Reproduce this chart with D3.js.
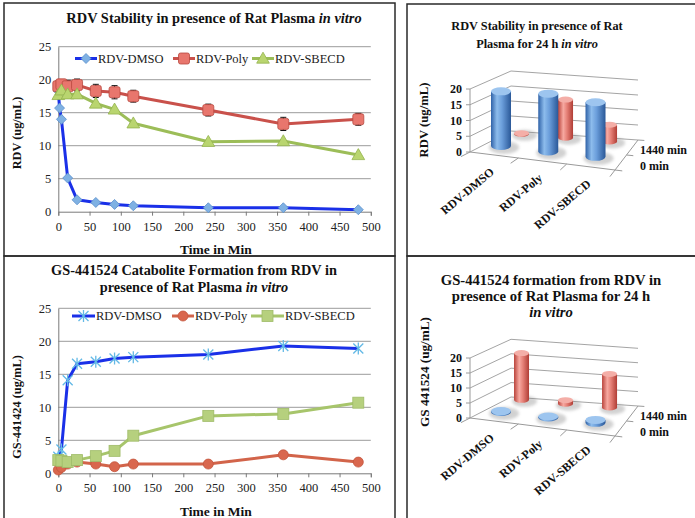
<!DOCTYPE html>
<html>
<head>
<meta charset="utf-8">
<script src="https://cdn.jsdelivr.net/npm/d3@7"></script>
<style>
  body { margin: 0; background: #fff; }
  svg { display: block; font-family: "Liberation Serif", "Times New Roman", serif; }
</style>
</head>
<body>
<script>
// ---- dados ----
const tempos = [0, 5, 15, 30, 60, 90, 120, 240, 360, 480];
const temposDmso = [0, 2, 5, 15, 30, 60, 90, 120, 240, 360, 480];
const rdvDmso = [18.3, 15.7, 14.0, 5.1, 1.8, 1.4, 1.1, 0.9, 0.6, 0.6, 0.3];
const rdvPoly = [19.0, 19.3, 19.0, 19.2, 18.3, 18.1, 17.5, 15.4, 13.3, 14.0];
const rdvPolyErro = [0.8, 0.7, 0.9, 0.9, 1.0, 1.0, 0.9, 0.9, 1.0, 0.9];
const rdvSbecd = [17.7, 18.4, 17.8, 17.8, 16.4, 15.5, 13.4, 10.6, 10.7, 8.6];

const gsDmso = [2.5, 3.6, 14.1, 16.6, 16.9, 17.4, 17.6, 18.0, 19.3, 18.9];
const gsPoly = [0.5, 0.9, 1.4, 1.7, 1.4, 1.0, 1.4, 1.4, 2.8, 1.7];
const gsSbecd = [2.0, 1.9, 1.7, 2.0, 2.6, 3.4, 5.7, 8.7, 9.0, 10.7];

const nomesSeries = ["RDV-DMSO", "RDV-Poly", "RDV-SBECD"];
const ticksY = [0, 5, 10, 15, 20, 25];
const ticksX = [0, 50, 100, 150, 200, 250, 300, 350, 400, 450, 500];

const categorias3d = ["RDV-DMSO", "RDV-Poly", "RDV-SBECD"];
const linhas3d = ["0 min", "1440 min"];
const ticks3d = [0, 5, 10, 15, 20];
const rdv0min = [17.5, 18.5, 17.5];
const rdv1440min = [0.2, 12.5, 5.5];
const gs0min = [0.3, 0.3, 1.0];
const gs1440min = [16.0, 1.2, 11.5];

const fonteSerif = '"Liberation Serif", "Times New Roman", serif';

const svg = d3.select("body").append("svg")
  .attr("width", 695)
  .attr("height", 518);

const defs = svg.append("defs");

function gradiente(id, stops) {
  const lg = defs.append("linearGradient").attr("id", id)
    .attr("x1", 0).attr("x2", 1).attr("y1", 0).attr("y2", 0);
  stops.forEach(s => lg.append("stop").attr("offset", s[0]).attr("stop-color", s[1]));
}
gradiente("gradAzul", [[0, "#2f62a8"], [0.3, "#8dbcec"], [0.55, "#6b9edb"], [1, "#2a5898"]]);
gradiente("gradVermelho", [[0, "#b9423a"], [0.35, "#f7a9a1"], [0.6, "#e57f76"], [1, "#b03d35"]]);
defs.append("filter").attr("id", "sombra").attr("x", "-50%").attr("y", "-100%").attr("width", "200%").attr("height", "300%")
  .append("feGaussianBlur").attr("stdDeviation", 1.8);

// ---- bordas dos painéis ----
const bordas = [
  [4, 3, 391, 253],
  [407, 4, 300, 252],
  [4, 256, 391, 270],
  [407, 256, 300, 270]
];
svg.selectAll("rect.borda").data(bordas).enter().append("rect")
  .attr("class", "borda")
  .attr("x", d => d[0]).attr("y", d => d[1])
  .attr("width", d => d[2]).attr("height", d => d[3])
  .attr("fill", "none").attr("stroke", "#2a2a2a").attr("stroke-width", 1.5);

// ---- títulos ----
function titulo(x, y0, linhas, tamanho, passo) {
  linhas.forEach((partes, i) => {
    const t = svg.append("text")
      .attr("x", x).attr("y", y0 + i * passo)
      .attr("text-anchor", "middle")
      .attr("font-size", tamanho + "px")
      .attr("font-weight", "bold")
      .attr("fill", "#111");
    partes.forEach(p => {
      t.append("tspan").text(p[0]).attr("font-style", p[1] ? "italic" : null);
    });
  });
}

titulo(214, 23, [[["RDV Stability in presence of Rat Plasma ", 0], ["in vitro", 1]]], 14.4, 0);
titulo(194, 275, [
  [["GS-441524 Catabolite Formation from RDV in", 0]],
  [["presence of Rat Plasma ", 0], ["in vitro", 1]]
], 14.3, 17);
titulo(537, 30, [
  [["RDV Stability in presence of Rat", 0]],
  [["Plasma for 24 h ", 0], ["in vitro", 1]]
], 12.3, 18);
titulo(551, 285, [
  [["GS-441524 formation from RDV in", 0]],
  [["presence of Rat Plasma for 24 h", 0]],
  [["in vitro", 1]]
], 14.7, 16);

// ---- marcadores ----
function marcador(g, tipo, cx, cy) {
  if (tipo === "losango") {
    const r = 5;
    g.append("path").attr("d", `M${cx},${cy - r}L${cx + r},${cy}L${cx},${cy + r}L${cx - r},${cy}Z`)
      .attr("fill", "#7fb1e3").attr("stroke", "#5b8fcb").attr("stroke-width", 0.8);
  } else if (tipo === "quadrado") {
    g.append("rect").attr("x", cx - 5.5).attr("y", cy - 5.5).attr("width", 11).attr("height", 11)
      .attr("rx", 2).attr("fill", "#e8766d").attr("stroke", "#b8473f").attr("stroke-width", 0.8);
  } else if (tipo === "triangulo") {
    g.append("path").attr("d", d3.symbol(d3.symbolTriangle, 70)())
      .attr("transform", `translate(${cx},${cy + 1})`)
      .attr("fill", "#b9d56f").attr("stroke", "#93b24d").attr("stroke-width", 0.8);
  } else if (tipo === "asterisco") {
    const r = 5;
    const p = `M${cx - r},${cy - r}L${cx + r},${cy + r}M${cx - r},${cy + r}L${cx + r},${cy - r}M${cx},${cy - r - 1}L${cx},${cy + r + 1}`;
    g.append("path").attr("d", p).attr("stroke", "#63b9e6").attr("stroke-width", 1.3).attr("fill", "none");
  } else if (tipo === "circulo") {
    g.append("circle").attr("cx", cx).attr("cy", cy).attr("r", 5)
      .attr("fill", "#d9674e").attr("stroke", "#c4553d").attr("stroke-width", 0.8);
  } else if (tipo === "quadradoVerde") {
    g.append("rect").attr("x", cx - 5.5).attr("y", cy - 5.5).attr("width", 11).attr("height", 11)
      .attr("fill", "#b6d07e").attr("stroke", "#9fbb68").attr("stroke-width", 0.8);
  }
}

// ---- gráficos de linha ----
function graficoLinha(cfg) {
  const g = svg.append("g");
  const x = d3.scaleLinear().domain([0, 500]).range([58.3, 370.8]);
  const y = d3.scaleLinear().domain([0, 25]).range([cfg.y0, cfg.y0 - 165]);

  g.selectAll("line.grade").data(ticksY.slice(1)).enter().append("line")
    .attr("class", "grade")
    .attr("x1", x(0)).attr("x2", x(500))
    .attr("y1", d => y(d)).attr("y2", d => y(d))
    .attr("stroke", "#9c9c9c").attr("stroke-width", 1);

  const eixoY = g.append("g")
    .attr("transform", `translate(${x(0)},0)`)
    .call(d3.axisLeft(y).tickValues(ticksY).tickSize(0).tickPadding(7));
  const eixoX = g.append("g")
    .attr("transform", `translate(0,${y(0)})`)
    .call(d3.axisBottom(x).tickValues(ticksX).tickSize(4).tickPadding(6));
  [eixoY, eixoX].forEach(e => {
    e.attr("font-family", fonteSerif).attr("font-size", "12.5px");
    e.select(".domain").attr("stroke", "#7a7a7a");
    e.selectAll(".tick line").attr("stroke", "#7a7a7a");
    e.selectAll(".tick text").attr("fill", "#222");
  });

  g.append("text")
    .attr("transform", `translate(17,${cfg.tituloY}) rotate(-90)`)
    .attr("text-anchor", "middle").attr("dy", "0.35em")
    .attr("font-size", "12.3px").attr("font-weight", "bold").attr("fill", "#111")
    .text(cfg.tituloEixoY);
  g.append("text")
    .attr("x", 216).attr("y", cfg.tituloXY)
    .attr("text-anchor", "middle")
    .attr("font-size", "13.5px").attr("font-weight", "bold").attr("fill", "#111")
    .text("Time in Min");

  const linha = d3.line().x(d => x(d[0])).y(d => y(d[1]));

  cfg.series.forEach(s => {
    const pts = s.tempos.map((t, i) => [t, s.valores[i]]);
    g.append("path").datum(pts)
      .attr("d", linha)
      .attr("fill", "none").attr("stroke", s.cor).attr("stroke-width", 3)
      .attr("stroke-linejoin", "round");
    if (s.erro) {
      pts.forEach((p, i) => {
        const e = s.erro[i];
        const gx = x(p[0]);
        g.append("path")
          .attr("d", `M${gx},${y(p[1] - e)}V${y(p[1] + e)}M${gx - 3},${y(p[1] - e)}H${gx + 3}M${gx - 3},${y(p[1] + e)}H${gx + 3}`)
          .attr("stroke", "#111").attr("stroke-width", 1).attr("fill", "none");
      });
    }
    pts.forEach(p => marcador(g, s.marcador, x(p[0]), y(p[1])));
  });

  // legenda
  cfg.series.forEach((s, i) => {
    const [lx, larg] = cfg.legenda[i];
    const ly = cfg.legendaY;
    g.append("line").attr("x1", lx).attr("x2", lx + larg).attr("y1", ly).attr("y2", ly)
      .attr("stroke", s.cor).attr("stroke-width", 3);
    marcador(g, s.marcador, lx + larg / 2, ly);
    g.append("text").attr("x", lx + larg + 1).attr("y", ly).attr("dy", "0.35em")
      .attr("font-size", "12.5px").attr("fill", "#222")
      .text(nomesSeries[i]);
  });
}

graficoLinha({
  y0: 211.7,
  tituloY: 133,
  tituloXY: 254,
  tituloEixoY: "RDV (ug/mL)",
  legendaY: 58.5,
  legenda: [[75, 22], [173, 22], [252, 22]],
  series: [
    { tempos: temposDmso, valores: rdvDmso, cor: "#1a30e8", marcador: "losango" },
    { tempos: tempos, valores: rdvPoly, erro: rdvPolyErro, cor: "#c9514b", marcador: "quadrado" },
    { tempos: tempos, valores: rdvSbecd, cor: "#9cbd58", marcador: "triangulo" }
  ]
});

graficoLinha({
  y0: 473.3,
  tituloY: 407,
  tituloXY: 516,
  tituloEixoY: "GS-441424 (ug/mL)",
  legendaY: 316,
  legenda: [[72, 23], [172, 22], [251, 33]],
  series: [
    { tempos: tempos, valores: gsDmso, cor: "#1a30e8", marcador: "asterisco" },
    { tempos: tempos, valores: gsPoly, cor: "#d2644a", marcador: "circulo" },
    { tempos: tempos, valores: gsSbecd, cor: "#a7c56b", marcador: "quadradoVerde" }
  ]
});

// ---- gráficos 3D com cilindros ----
function grafico3D(cfg) {
  const g = svg.append("g");
  const oy = cfg.oy;
  const FL = [470, 152 + oy], FR = [615, 170 + oy], BL = [511, 131 + oy], BR = [638, 140 + oy];
  const cat = d3.scaleBand().domain(categorias3d).range([0, 1]);
  const prof = d3.scalePoint().domain(linhas3d).range([0.18, 0.72]);
  const val = d3.scaleLinear().domain([0, 20]).range([0, 1]);
  const alt = d => cfg.hFrente + d * (cfg.hFundo - cfg.hFrente);

  function P(a, d, v) {
    const fx = FL[0] + a * (FR[0] - FL[0]), fy = FL[1] + a * (FR[1] - FL[1]);
    const bx = BL[0] + a * (BR[0] - BL[0]), by = BL[1] + a * (BR[1] - BL[1]);
    return [fx + d * (bx - fx), fy + d * (by - fy) - val(v) * alt(d)];
  }

  const cinza = "#9a9a9a";
  // paredes
  ticks3d.forEach(t => {
    const a = P(0, 0, t), b = P(0, 1, t), c = P(1, 1, t);
    g.append("path").attr("d", `M${a}L${b}L${c}`)
      .attr("fill", "none").attr("stroke", cinza).attr("stroke-width", 0.9);
    g.append("line").attr("x1", a[0] - 4).attr("x2", a[0]).attr("y1", a[1]).attr("y2", a[1])
      .attr("stroke", cinza);
    g.append("text").attr("x", a[0] - 8).attr("y", a[1]).attr("dy", "0.35em")
      .attr("text-anchor", "end").attr("font-size", "12px").attr("font-weight", "bold")
      .attr("fill", "#111").text(t);
  });
  const f0 = P(0, 0, 0), f20 = P(0, 0, 20), fr = P(1, 0, 0), br = P(1, 1, 0);
  g.append("path").attr("d", `M${f20}L${f0}L${fr}L${br}`)
    .attr("fill", "none").attr("stroke", cinza).attr("stroke-width", 1);
  [0, 1 / 3, 2 / 3, 1].forEach(a => {
    const p = P(a, 0, 0), q = P(a, -0.22, 0);
    g.append("line").attr("x1", p[0]).attr("y1", p[1]).attr("x2", q[0]).attr("y2", q[1]).attr("stroke", cinza);
  });
  [0, 0.5, 1].forEach(d => {
    const p = P(1, d, 0), q = P(1.05, d, 0);
    g.append("line").attr("x1", p[0]).attr("y1", p[1]).attr("x2", q[0]).attr("y2", q[1]).attr("stroke", cinza);
  });

  // rótulos das categorias e das linhas
  categorias3d.forEach(c => {
    const p = P(cat(c) + cat.bandwidth() / 2, 0, 0);
    g.append("text")
      .attr("transform", `translate(${p[0] - 2},${p[1] + 15}) rotate(-40)`)
      .attr("text-anchor", "end").attr("dy", "0.35em")
      .attr("font-size", "12px").attr("font-weight", "bold").attr("fill", "#111")
      .text(c);
  });
  linhas3d.forEach(l => {
    const p = P(1, prof(l), 0);
    g.append("text").attr("x", br[0] + 2).attr("y", p[1] + 1).attr("dy", "0.35em")
      .attr("font-size", "12px").attr("font-weight", "bold").attr("fill", "#111")
      .text(l);
  });

  g.append("text")
    .attr("transform", `translate(424,${cfg.tituloY}) rotate(-90)`)
    .attr("text-anchor", "middle").attr("dy", "0.35em")
    .attr("font-size", cfg.tamTitulo + "px").attr("font-weight", "bold").attr("fill", "#111")
    .text(cfg.tituloEixo);

  // cilindros: fileira do fundo primeiro
  const barras = [];
  [[linhas3d[1], cfg.v1440, "gradVermelho", "#f4aea7", 7.5, 3], [linhas3d[0], cfg.v0, "gradAzul", "#9dc5ef", 10, 4]]
    .forEach(([linha, valores, grad, topo, rx, ry]) => {
      categorias3d.forEach((c, i) => {
        const d = prof(linha);
        const p = P(cat(c) + cat.bandwidth() / 2, d, 0);
        barras.push({ cx: p[0], cy: p[1] - 5, h: val(valores[i]) * alt(d), grad, topo, rx, ry });
      });
    });

  barras.forEach(b => {
    g.append("ellipse").attr("cx", b.cx + 3).attr("cy", b.cy + 1.5)
      .attr("rx", b.rx + 5).attr("ry", b.ry + 2.5)
      .attr("fill", "#8f8f8f").attr("opacity", 0.4).attr("filter", "url(#sombra)");
  });
  barras.forEach(b => {
    const topoY = b.cy - b.h;
    g.append("path")
      .attr("d", `M${b.cx - b.rx},${topoY}L${b.cx - b.rx},${b.cy}A${b.rx},${b.ry} 0 0 0 ${b.cx + b.rx},${b.cy}L${b.cx + b.rx},${topoY}Z`)
      .attr("fill", `url(#${b.grad})`);
    g.append("ellipse").attr("cx", b.cx).attr("cy", topoY)
      .attr("rx", b.rx).attr("ry", b.ry)
      .attr("fill", b.topo);
  });
}

grafico3D({ oy: 0, hFrente: 63, hFundo: 60, v0: rdv0min, v1440: rdv1440min,
  tituloEixo: "RDV (ug/mL)", tituloY: 120, tamTitulo: 12.7 });
grafico3D({ oy: 266, hFrente: 60, hFundo: 57.7, v0: gs0min, v1440: gs1440min,
  tituloEixo: "GS 441524 (ug/mL)", tituloY: 372, tamTitulo: 13.2 });
</script>
</body>
</html>
